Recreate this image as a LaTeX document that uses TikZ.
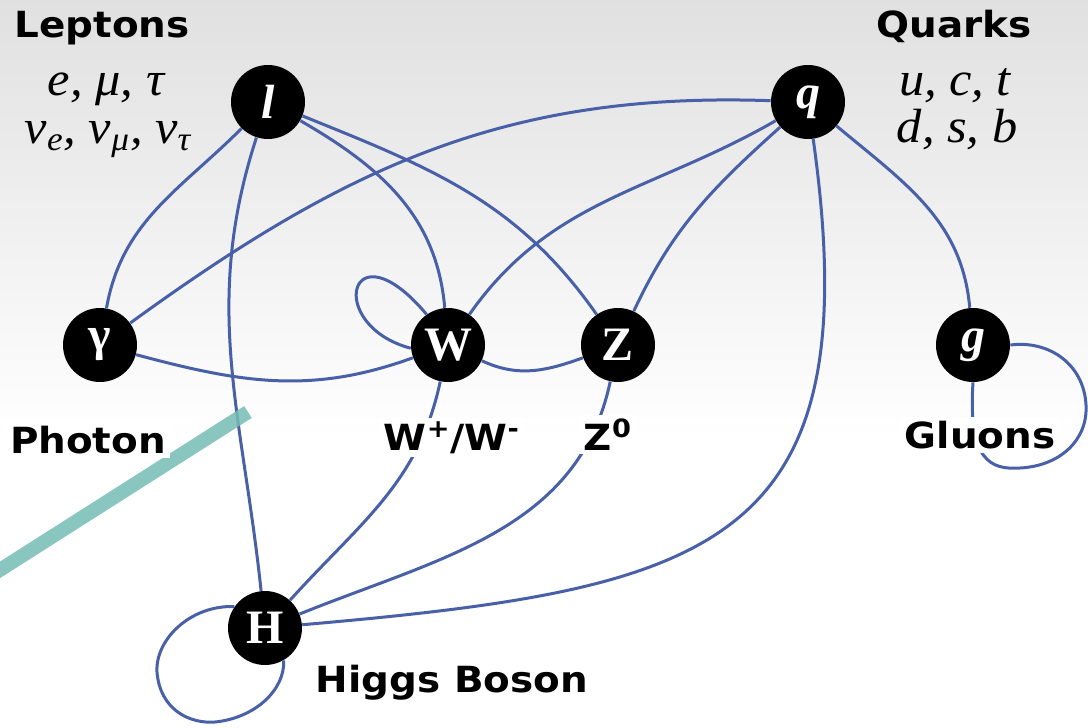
\documentclass[tikz,border=0pt]{standalone}
\usepackage{fontspec}
\setmainfont{Liberation Serif}
\newfontfamily\labelfont{DejaVu Sans}
\usepackage{tikz}

\definecolor{linkblue}{RGB}{72,96,168}
\definecolor{markteal}{RGB}{118,189,182}

\begin{document}
\begin{tikzpicture}[x=0.5pt,y=0.5pt,
  particle/.style={circle,fill=black,text=white,minimum size=37pt,inner sep=0pt,
    font=\fontsize{24}{24}\selectfont\bfseries},
  link/.style={draw=linkblue,line width=1.5pt},
  tag/.style={font=\labelfont\fontsize{18}{20}\selectfont\bfseries,xscale=1.08,anchor=base,inner sep=2pt},
  under/.style={tag,fill=white},
  names/.style={font=\fontsize{24}{24}\selectfont\itshape,xscale=1.05,anchor=base,inner sep=0pt}]

    % Background
    \useasboundingbox (0,0) rectangle (1088,-728);
    \shade[top color=black!12,bottom color=white] (0,0) rectangle (1088,-440);
    \fill[white] (0,-440) rectangle (1088,-728);

    % Particles
    \node[particle] (l) at (268,-102) {\itshape l};
    \node[particle] (q) at (808,-102) {\itshape q};
    \node[particle] (gam) at (100,-345) {γ};
    \node[particle] (W) at (448,-345) {W};
    \node[particle] (Z) at (618,-345) {Z};
    \node[particle] (g) at (973,-345) {\itshape g};
    \node[particle] (H) at (265,-628) {H};

    % Links between particles
    \draw[link] (l) to[out=225,in=80] (gam);
    \draw[link] (l) to[out=252,in=96] (H);
    \draw[link] (l) to[out=-30,in=95] (W);
    \draw[link] (l) to[out=-22,in=125] (Z);
    \draw[link] (q) to[out=178,in=36] (gam);
    \draw[link] (q) to[out=210,in=55] (W);
    \draw[link] (q) to[out=222,in=65] (Z);
    \draw[link] (q) to[out=-40,in=95] (g);
    \draw[link] (q) to[out=-82,in=5,looseness=1.5] (H);
    \draw[link] (gam) to[out=-15,in=200] (W);
    \draw[link] (W) to[out=-25,in=200] (Z);
    \draw[link] (W) to[out=258,in=48] (H);
    \draw[link] (Z) to[out=258,in=22] (H);

    % Self loops
    \draw[link] (W.185) .. controls +(165:90) and +(130:120) .. (W.125);
    \draw[link] (g.south) .. controls (968,-460) and (990,-470) .. (1020,-468)
      .. controls (1060,-466) and (1088,-440) .. (1086,-405)
      .. controls (1084,-365) and (1050,-340) .. (g.east);
    \draw[link] (H.145) .. controls (190,-605) and (155,-640) .. (157,-672)
      .. controls (160,-710) and (190,-724) .. (215,-722)
      .. controls (255,-718) and (285,-690) .. (H.-60);

    % Stray stroke
    \draw[markteal,line width=7pt,opacity=0.85] (-5,-573) -- (248,-412);

    % Family names
    \node[tag] (leptons) at (102,-38) {Leptons};
    \node[names] (lepA) at (106,-95) {e, μ, τ};
    \node[names] (lepB) at (108,-143) {ν\textsubscript{e}, ν\textsubscript{μ}, ν\textsubscript{τ}};
    \node[tag] (quarks) at (954,-38) {Quarks};
    \node[names] (quA) at (955,-95) {u, c, t};
    \node[names] (quB) at (957,-142) {d, s, b};

    % Boson names
    \node[under] (photon) at (88,-453) {Photon};
    \node[under] (wname) at (452,-450) {W\textsuperscript{+}/W\textsuperscript{-}};
    \node[under] (zname) at (608,-450) {Z\textsuperscript{0}};
    \node[under] (gluons) at (980,-448) {Gluons};
    \node[under] (higgs) at (452,-692) {Higgs Boson};
\end{tikzpicture}
\end{document}
